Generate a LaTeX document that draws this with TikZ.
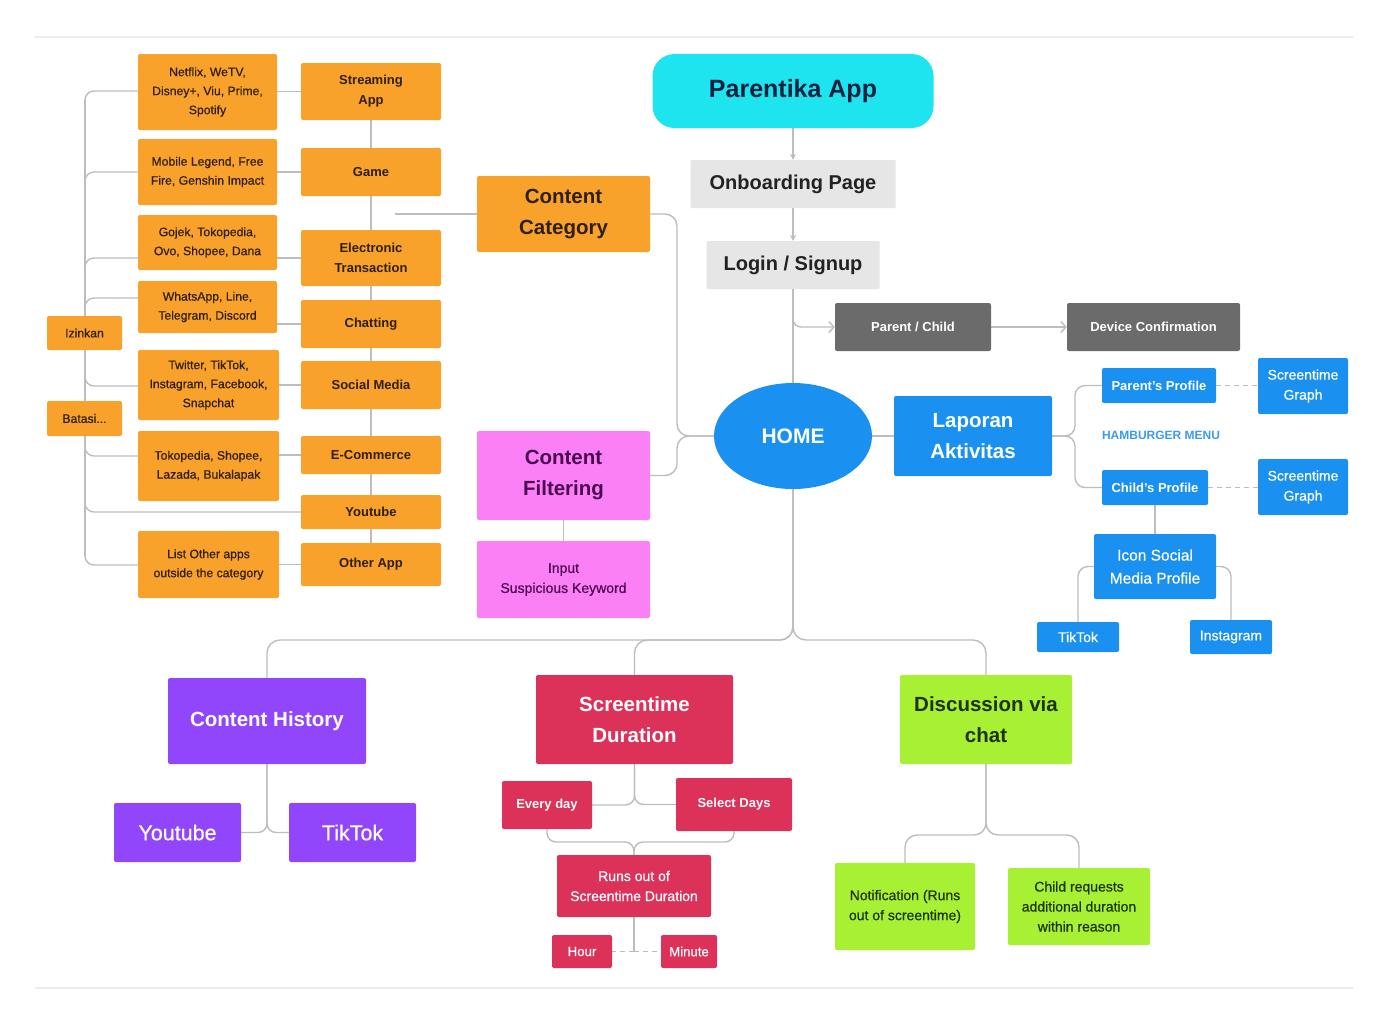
\documentclass[tikz,border=0pt]{standalone}
\usepackage{fontspec}
\setmainfont{Liberation Sans}
\newfontfamily\medfont{Liberation Sans}[BoldFont=Liberation Sans, BoldFeatures={FakeBold=0.5}]
\usetikzlibrary{arrows.meta,shapes.geometric,calc}
\pgfdeclarelayer{bg}\pgfsetlayers{bg,main}
\definecolor{cOrange}{HTML}{F9A22B}
\definecolor{cOrText}{HTML}{2E1E0C}
\definecolor{cCyan}{HTML}{1DE4EF}
\definecolor{cNavy}{HTML}{13203F}
\definecolor{cLightGray}{HTML}{E6E6E6}
\definecolor{cDarkText}{HTML}{222222}
\definecolor{cGray}{HTML}{6B6B6B}
\definecolor{cBlue}{HTML}{1A90F0}
\definecolor{cHam}{HTML}{3A9BF0}
\definecolor{cPink}{HTML}{FB80F6}
\definecolor{cPinkText}{HTML}{4A0A50}
\definecolor{cPurple}{HTML}{9146FB}
\definecolor{cCrimson}{HTML}{DC325A}
\definecolor{cLime}{HTML}{A8F034}
\definecolor{cLimeText}{HTML}{1C3300}
\definecolor{cLine}{HTML}{BDBDBD}
\definecolor{cSep}{HTML}{EDEDED}
\tikzset{
  box/.style={rectangle, rounded corners=2pt, inner sep=0pt, align=center},
  orng/.style={box, fill=cOrange, text=cOrText},
  bluebox/.style={box, fill=cBlue, text=white},
  pinkbox/.style={box, fill=cPink, text=cPinkText},
  purplebox/.style={box, fill=cPurple, text=white},
  redbox/.style={box, fill=cCrimson, text=white},
  limebox/.style={box, fill=cLime, text=cLimeText},
  graybox/.style={box, fill=cGray, text=white},
  lgraybox/.style={box, fill=cLightGray, text=cDarkText, rounded corners=1pt},
  conn/.style={draw=cLine, line width=1.4pt},
  dconn/.style={conn, dash pattern=on 5pt off 4pt},
  fbig/.style={font=\fontsize{20.5}{31}\selectfont\bfseries},
  fmid/.style={font=\fontsize{13}{20}\selectfont\bfseries},
  fsmall/.style={font=\fontsize{12.2}{19}\selectfont\medfont\bfseries},
  fsmallb/.style={font=\fontsize{13}{19}\selectfont\bfseries},
  fmed/.style={font=\fontsize{14}{20}\selectfont\medfont\bfseries},
  fblue/.style={font=\fontsize{15.5}{23}\selectfont\medfont\bfseries},
}
\begin{document}
\begin{tikzpicture}[x=1pt,y=-1pt]
\useasboundingbox (0,0) rectangle (1388,1026);

% ---- main spine ----
\node[box, fill=cCyan, text=cNavy, rounded corners=22pt, minimum width=281, minimum height=74, font=\fontsize{25}{28}\selectfont\bfseries] (app) at (793,91) {Parentika App};
\node[lgraybox, minimum width=205, minimum height=48, font=\fontsize{20}{24}\selectfont\bfseries] (onb) at (793,184) {Onboarding Page};
\node[lgraybox, minimum width=173, minimum height=48, font=\fontsize{20}{24}\selectfont\bfseries] (login) at (793,265) {Login / Signup};
\node[graybox, minimum width=156, minimum height=48, fsmallb] (pc) at (913,327) {Parent / Child};
\node[graybox, minimum width=173, minimum height=48, fsmallb] (dc) at (1153.5,327) {Device Confirmation};
\node[ellipse, fill=cBlue, text=white, inner sep=0pt, minimum width=158, minimum height=106, font=\fontsize{21}{24}\selectfont\bfseries] (home) at (793,436) {HOME};

% ---- blue right ----
\node[bluebox, minimum width=158, minimum height=80, fbig] (lap) at (973,436) {Laporan\\Aktivitas};
\node[bluebox, minimum width=114, minimum height=35, fsmallb] (pp) at (1159,385.5) {Parent's Profile};
\node[text=cHam, inner sep=0pt, font=\fontsize{12}{13}\selectfont\bfseries] (hm) at (1161,435) {HAMBURGER MENU};
\node[bluebox, minimum width=106, minimum height=35, fsmallb] (cp) at (1155,487.5) {Child's Profile};
\node[bluebox, minimum width=90, minimum height=56, fmed] (sg1) at (1303,386) {Screentime\\Graph};
\node[bluebox, minimum width=90, minimum height=56, fmed] (sg2) at (1303,487) {Screentime\\Graph};
\node[bluebox, minimum width=122, minimum height=65, fblue] (icon) at (1155,566.5) {Icon Social\\Media Profile};
\node[bluebox, minimum width=82, minimum height=30, fmed] (tkb) at (1078,637) {TikTok};
\node[bluebox, minimum width=82, minimum height=34, fmed] (igb) at (1231,637) {Instagram};

% ---- content category / filtering ----
\node[orng, minimum width=173, minimum height=76, fbig] (cc) at (563.5,214) {Content\\Category};
\node[pinkbox, minimum width=173, minimum height=89, fbig] (cf) at (563.5,475.5) {Content\\Filtering};
\node[pinkbox, minimum width=173, minimum height=77, fmed] (isk) at (563.5,579.5) {Input\\Suspicious Keyword};

% ---- categories ----
\node[orng, minimum width=140, minimum height=57, fmid] (stream) at (371,91.5) {Streaming\\App};
\node[orng, minimum width=140, minimum height=48, fmid] (game) at (371,172) {Game};
\node[orng, minimum width=140, minimum height=56, fmid] (etrans) at (371,258) {Electronic\\Transaction};
\node[orng, minimum width=140, minimum height=48, fmid] (chat) at (371,324) {Chatting};
\node[orng, minimum width=140, minimum height=48, fmid] (social) at (371,385) {Social Media};
\node[orng, minimum width=140, minimum height=38, fmid] (ecom) at (371,455) {E-Commerce};
\node[orng, minimum width=140, minimum height=34, fmid] (ytc) at (371,512) {Youtube};
\node[orng, minimum width=140, minimum height=43, fmid] (other) at (371,564.5) {Other App};

% ---- examples ----
\node[orng, minimum width=139, minimum height=76, fsmall] (ex1) at (207.5,92) {Netflix, WeTV,\\Disney+, Viu, Prime,\\Spotify};
\node[orng, minimum width=139, minimum height=66, fsmall] (ex2) at (207.5,172) {Mobile Legend, Free\\Fire, Genshin Impact};
\node[orng, minimum width=139, minimum height=55, fsmall] (ex3) at (207.5,242.5) {Gojek, Tokopedia,\\Ovo, Shopee, Dana};
\node[orng, minimum width=139, minimum height=52, fsmall] (ex4) at (207.5,307) {WhatsApp, Line,\\Telegram, Discord};
\node[orng, minimum width=141, minimum height=70, fsmall] (ex5) at (208.5,385) {Twitter, TikTok,\\Instagram, Facebook,\\Snapchat};
\node[orng, minimum width=141, minimum height=70, fsmall] (ex6) at (208.5,466) {Tokopedia, Shopee,\\Lazada, Bukalapak};
\node[orng, minimum width=141, minimum height=67, fsmall] (ex7) at (208.5,564.5) {List Other apps\\outside the category};
\node[orng, minimum width=75, minimum height=34, fsmall] (izin) at (84.5,333) {Izinkan};
\node[orng, minimum width=75, minimum height=35, fsmall] (bata) at (84.5,418.5) {Batasi...};

% ---- bottom ----
\node[purplebox, minimum width=198, minimum height=86, fbig] (ch) at (267,721) {Content History};
\node[purplebox, minimum width=127, minimum height=59, font=\fontsize{21.5}{24}\selectfont\medfont\bfseries] (ytp) at (177.5,832.5) {Youtube};
\node[purplebox, minimum width=127, minimum height=59, font=\fontsize{21.5}{24}\selectfont\medfont\bfseries] (ttp) at (352.5,832.5) {TikTok};
\node[redbox, minimum width=197, minimum height=89, fbig] (sd) at (634.5,719.5) {Screentime\\Duration};
\node[redbox, minimum width=90, minimum height=48, fsmallb] (ed) at (547,805) {Every day};
\node[redbox, minimum width=116, minimum height=53, fsmallb] (sel) at (734,804.5) {Select Days};
\node[redbox, minimum width=154, minimum height=62, fmed] (runs) at (634,886) {Runs out of\\Screentime Duration};
\node[redbox, minimum width=60, minimum height=33, font=\fontsize{13.2}{15}\selectfont\medfont\bfseries] (hour) at (582,951.5) {Hour};
\node[redbox, minimum width=56, minimum height=33, font=\fontsize{13.2}{15}\selectfont\medfont\bfseries] (minute) at (689,951.5) {Minute};
\node[limebox, minimum width=172, minimum height=89, fbig] (dv) at (986,719.5) {Discussion via\\chat};
\node[limebox, minimum width=140, minimum height=87, fmed] (notif) at (905,906.5) {Notification (Runs\\out of screentime)};
\node[limebox, minimum width=142, minimum height=77, fmed] (child) at (1079,906.5) {Child requests\\additional duration\\within reason};

\coordinate (ccstub) at (395,214);
\coordinate (lsplit) at (793,308);

\begin{pgfonlayer}{bg}
\fill[white] (0,0) rectangle (1388,1026);
\draw[cSep, line width=1.5pt] (35,37) -- (1353,37);
\draw[cSep, line width=1.5pt] (35,988) -- (1353,988);
% spine arrows
\draw[conn, -{Stealth[length=6pt,width=6pt]}] (app.south) -- (onb.north);
\draw[conn, -{Stealth[length=6pt,width=6pt]}] (onb.south) -- (login.north);
\draw[conn] (login.south) -- (home.north);
\draw[conn, rounded corners=8pt, -{Straight Barb[length=5pt,width=11pt]}] (lsplit) |- (pc.west);
\draw[conn, -{Straight Barb[length=5pt,width=11pt]}] (pc.east) -- (dc.west);
% laporan
\draw[conn] (home.east) -- (lap.west);
\draw[conn, rounded corners=10pt] (lap.east) -- (1075,436) |- (pp.west);
\draw[conn, rounded corners=10pt] (lap.east) -- (1075,436) |- (cp.west);
\draw[dconn] (pp.east) -- (sg1.west |- pp.east);
\draw[dconn] (cp.east) -- (sg2.west |- cp.east);
\draw[conn] (cp.south) -- (icon.north);
\draw[conn, rounded corners=10pt] (icon.west) -| (tkb.north);
\draw[conn, rounded corners=10pt] (icon.east) -| (igb.north);
% content category / filtering brace
\draw[conn] (ccstub) -- (cc.west);
\draw[conn, rounded corners=12pt] (cc.east) -- (677,214) -- (677,436) -- (home.west);
\draw[conn, rounded corners=12pt] (cf.east) -- (677,475.5) -- (677,436) -- (home.west);
\draw[conn] (cf.south) -- (isk.north);
% category chain
\draw[conn] (stream.south) -- (other.north);
% examples to categories
\draw[conn] (ex1.east |- stream.west) -- (stream.west);
\draw[conn] (ex2.east) -- (game.west);
\draw[conn] (ex3.east |- etrans.west) -- (etrans.west);
\draw[conn] (ex4.east |- chat.west) -- (chat.west);
\draw[conn] (ex5.east) -- (social.west);
\draw[conn] (ex6.east |- ecom.west) -- (ecom.west);
\draw[conn] (ex7.east) -- (other.west);
% left trunk
\draw[conn] (85,100) -- (85,556);
\draw[conn, rounded corners=9pt] (ex1.west |- 0,91) -- (85,91) -- (85,112);
\draw[conn, rounded corners=9pt] (ex2.west) -- (85,172) -- (85,192);
\draw[conn, rounded corners=9pt] (ex3.west |- 0,258) -- (85,258) -- (85,278);
\draw[conn, rounded corners=9pt] (ex4.west |- 0,298) -- (85,298) -- (85,318);
\draw[conn, rounded corners=9pt] (85,366) -- (85,386) -- (ex5.west |- 0,386);
\draw[conn, rounded corners=9pt] (85,436) -- (85,456) -- (ex6.west |- 0,456);
\draw[conn, rounded corners=9pt] (85,492) -- (85,512) -- (ytc.west);
\draw[conn, rounded corners=9pt] (85,545) -- (85,565) -- (ex7.west |- 0,565);
% bottom brace from HOME
\draw[conn, rounded corners=13pt] (home.south) -- (793,640) -| (ch.north);
\draw[conn, rounded corners=13pt] (home.south) -- (793,640) -| (sd.north);
\draw[conn, rounded corners=13pt] (home.south) -- (793,640) -| (dv.north);
% content history
\draw[conn, rounded corners=9pt] (ch.south) |- (ytp.east);
\draw[conn, rounded corners=9pt] (ch.south) |- (ttp.west);
% screentime
\draw[conn, rounded corners=9pt] (sd.south) |- (ed.east);
\draw[conn, rounded corners=9pt] (sd.south) |- (sel.west);
\draw[conn, rounded corners=9pt] (ed.south) |- (634,842) -- (runs.north);
\draw[conn, rounded corners=9pt] (sel.south) |- (634,842) -- (runs.north);
\draw[conn] (runs.south) -- (634,951.5);
\draw[dconn] (634,951.5) -- (hour.east);
\draw[dconn] (634,951.5) -- (minute.west);
% discussion
\draw[conn, rounded corners=12pt] (dv.south) -- (986,835) -| (notif.north);
\draw[conn, rounded corners=12pt] (dv.south) -- (986,835) -| (child.north);
\end{pgfonlayer}
\end{tikzpicture}
\end{document}
